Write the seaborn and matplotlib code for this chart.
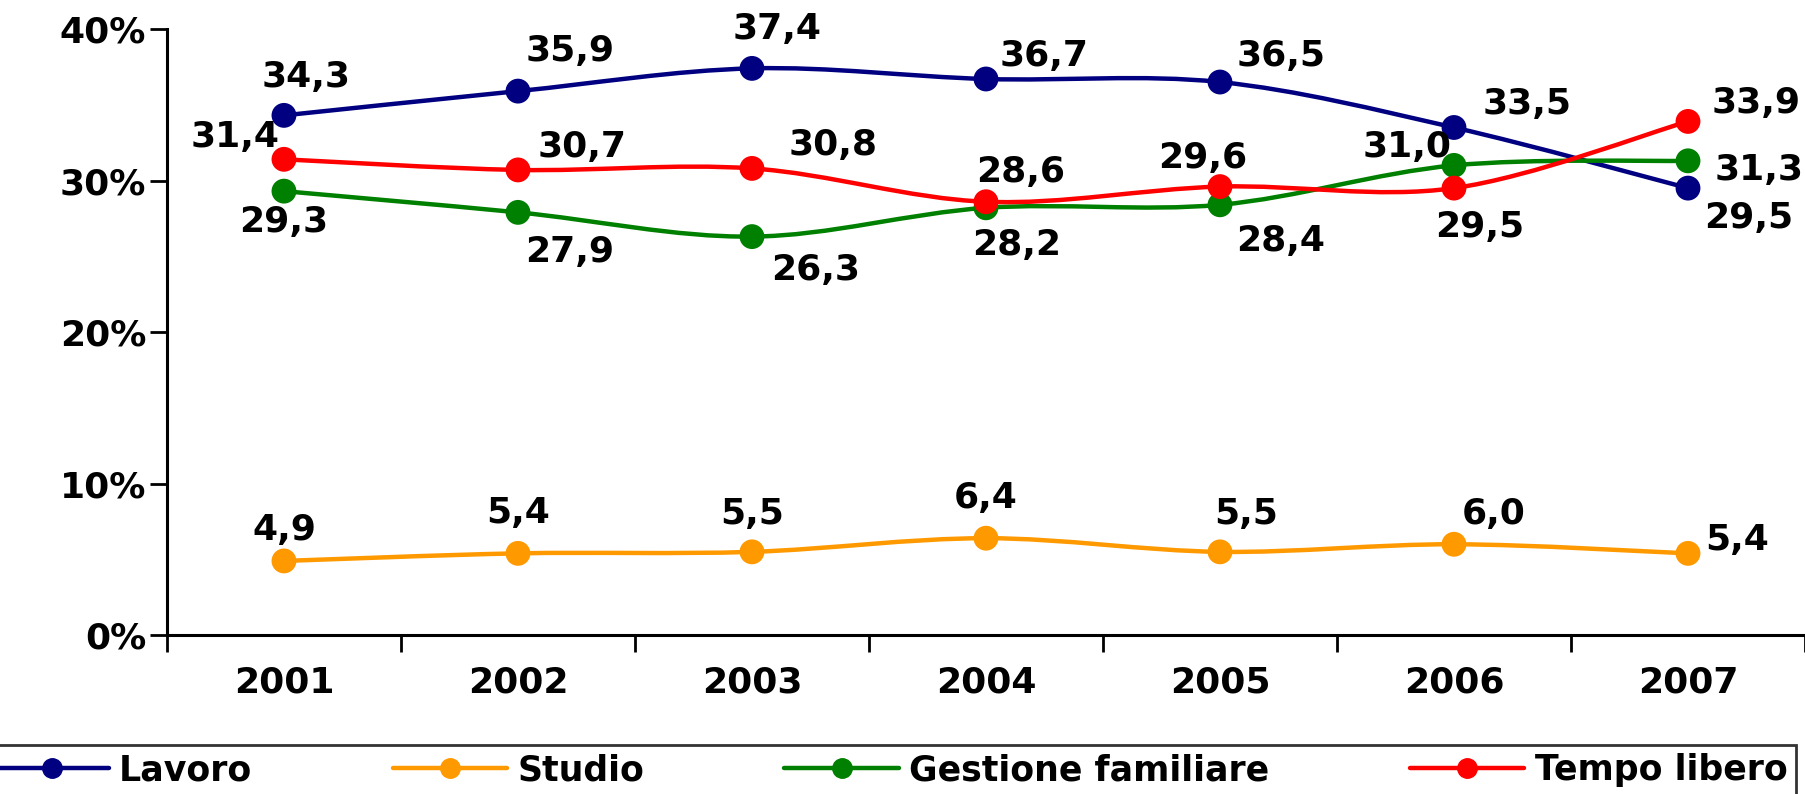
import matplotlib
matplotlib.use("Agg")
import matplotlib.pyplot as plt
import numpy as np
import pandas as pd
import seaborn as sns
from matplotlib.lines import Line2D
from matplotlib.path import Path
from matplotlib.patches import PathPatch
from matplotlib.ticker import FixedLocator, PercentFormatter

sns.set_theme(style="white", rc={"text.color": "black", "xtick.color": "black",
                                 "ytick.color": "black", "axes.labelcolor": "black"})
plt.rcParams["font.family"] = ["DejaVu Sans"]
plt.rcParams["font.weight"] = "bold"

YEARS = ["2001", "2002", "2003", "2004", "2005", "2006", "2007"]
SERIES = ["Lavoro", "Studio", "Gestione familiare", "Tempo libero"]
LAVORO = [34.3, 35.9, 37.4, 36.7, 36.5, 33.5, 29.5]
STUDIO = [4.9, 5.4, 5.5, 6.4, 5.5, 6.0, 5.4]
GESTIONE = [29.3, 27.9, 26.3, 28.2, 28.4, 31.0, 31.3]
TEMPO = [31.4, 30.7, 30.8, 28.6, 29.6, 29.5, 33.9]

COLORS = {
    "Lavoro": "#000080",
    "Studio": "#FF9900",
    "Gestione familiare": "#008000",
    "Tempo libero": "#FF0000",
}

# label offsets in pixels (dx, dy), hand placed like the original
LABEL_OFFSETS = {
    "Lavoro": [(22, 38), (52, 40), (25, 39), (58, 23), (61, 26), (73, 23), (61, -30)],
    "Studio": [(0, 31), (0, 40), (0, 38), (0, 40), (26, 38), (40, 30), (49, 13)],
    "Gestione familiare": [(0, -31), (52, -40), (64, -33), (31, -37), (61, -36), (-47, 18), (71, -9)],
    "Tempo libero": [(-49, 22), (64, 23), (81, 23), (35, 30), (-17, 29), (26, -39), (68, 18)],
}


def smooth_path(xs, ys):
    # Excel-style smoothed line: cubic bezier through each point
    pts = np.column_stack([xs, ys]).astype(float)
    ext = np.vstack([pts[0], pts, pts[-1]])
    verts = [pts[0]]
    codes = [Path.MOVETO]
    for i in range(len(pts) - 1):
        p0, p1, p2, p3 = ext[i], ext[i + 1], ext[i + 2], ext[i + 3]
        verts += [p1 + (p2 - p0) / 6.0, p2 - (p3 - p1) / 6.0, p2]
        codes += [Path.CURVE4] * 3
    return Path(verts, codes)


values = {
    "Lavoro": LAVORO,
    "Studio": STUDIO,
    "Gestione familiare": GESTIONE,
    "Tempo libero": TEMPO,
}
df = pd.DataFrame(
    [(s, i, v) for s in SERIES for i, v in enumerate(values[s])],
    columns=["serie", "anno", "valore"],
)

fig = plt.figure(figsize=(18.05, 7.94), dpi=100)
ax = fig.add_axes([0.0925, 0.20, 0.9075, 0.7635])

for s in SERIES:
    sub = df[df["serie"] == s]
    patch = PathPatch(
        smooth_path(sub["anno"].values, sub["valore"].values),
        facecolor="none",
        edgecolor=COLORS[s],
        linewidth=3.2,
        transform=ax.transData,
        zorder=2,
    )
    ax.add_patch(patch)
    sns.scatterplot(
        data=sub, x="anno", y="valore", color=COLORS[s], s=320,
        edgecolor="none", ax=ax, zorder=3, legend=False,
    )

for s in SERIES:
    for i, v in enumerate(values[s]):
        ax.annotate(
            f"{v:.1f}".replace(".", ","),
            xy=(i, v),
            xytext=LABEL_OFFSETS[s][i],
            textcoords="offset pixels",
            ha="center",
            va="center",
            fontsize=26,
            fontweight="bold",
            color="black",
            zorder=4,
        )

ax.set_xlim(-0.5, len(YEARS) - 0.5)
ax.set_ylim(0, 40)
ax.set_xlabel("")
ax.set_ylabel("")
ax.set_xticks(range(len(YEARS)))
ax.set_xticklabels(YEARS)
ax.xaxis.set_minor_locator(FixedLocator(np.arange(-0.5, len(YEARS), 1.0)))
ax.set_yticks([0, 10, 20, 30, 40])
ax.yaxis.set_major_formatter(PercentFormatter(decimals=0))

ax.tick_params(axis="x", which="major", length=0, pad=22, labelsize=26)
ax.tick_params(axis="x", which="minor", length=12, width=2, direction="out", color="black", bottom=True)
ax.tick_params(axis="y", length=12, width=2, direction="out", color="black", left=True, pad=3, labelsize=26)
for lab in ax.get_xticklabels() + ax.get_yticklabels():
    lab.set_fontweight("bold")
    lab.set_color("black")

for side in ["top", "right"]:
    ax.spines[side].set_visible(False)
for side in ["left", "bottom"]:
    ax.spines[side].set_color("black")
    ax.spines[side].set_linewidth(2.2)
ax.grid(False)

handles = [
    Line2D([0], [0], color=COLORS[s], linewidth=3.2, marker="o", markersize=14)
    for s in SERIES
]
leg = fig.legend(
    handles,
    SERIES,
    loc="upper left",
    bbox_to_anchor=(-0.008, 0.062, 1.003, 0.0),
    mode="expand",
    ncol=4,
    frameon=True,
    fancybox=False,
    borderaxespad=0,
    handlelength=3.3,
    handletextpad=0.3,
    borderpad=0.25,
    prop={"size": 25, "weight": "bold"},
)
leg.get_frame().set_edgecolor("black")
leg.get_frame().set_linewidth(2)
for t in leg.get_texts():
    t.set_color("black")

fig.savefig("out.png", dpi=100)
